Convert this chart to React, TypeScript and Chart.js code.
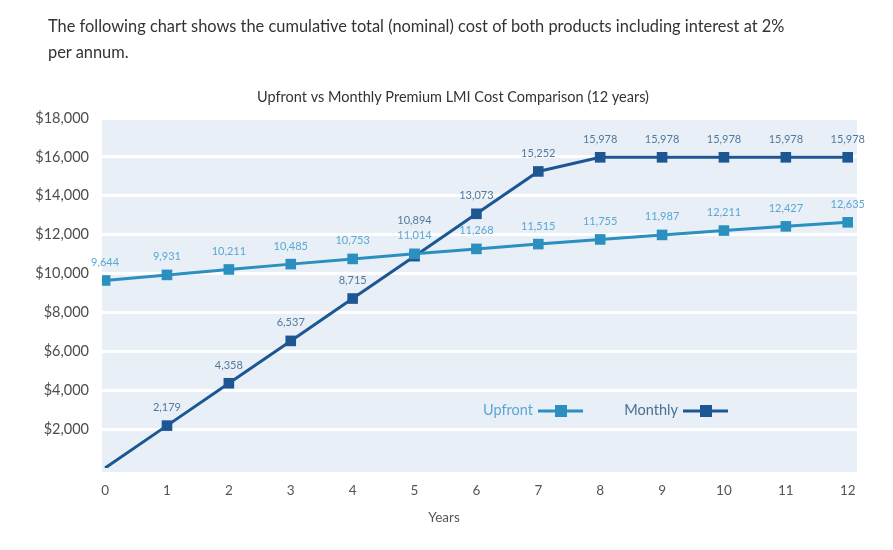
import React, { useEffect, useRef } from "react";
import { Chart, registerables } from "chart.js";

Chart.register(...registerables);

const years = [0, 1, 2, 3, 4, 5, 6, 7, 8, 9, 10, 11, 12];
const upfront = [9644, 9931, 10211, 10485, 10753, 11014, 11268, 11515, 11755, 11987, 12211, 12427, 12635];
const monthly = [0, 2179, 4358, 6537, 8715, 10894, 13073, 15252, 15978, 15978, 15978, 15978, 15978];
const yTicks = [2000, 4000, 6000, 8000, 10000, 12000, 14000, 16000, 18000];
const seriesNames = ["Upfront", "Monthly"];

const UP_COLOR = "#2b8fc0";
const MON_COLOR = "#1c5794";
const UP_LABEL = "#5aa8d2";
const MON_LABEL = "#54789d";
const FONT = "Lato, 'Open Sans', sans-serif";

const fmt = (v: number) => v.toLocaleString("en-US");

const bgPlugin = {
  id: "bgPlugin",
  beforeDraw(chart: any) {
    const { ctx, chartArea } = chart;
    ctx.save();
    ctx.fillStyle = "#e8eff6";
    ctx.fillRect(chartArea.left, chartArea.top, chartArea.right - chartArea.left, chartArea.bottom - chartArea.top + 4);
    ctx.restore();
  },
};

const textPlugin = {
  id: "textPlugin",
  afterDraw(chart: any) {
    const { ctx, chartArea } = chart;
    ctx.save();
    ctx.fillStyle = "#333333";
    ctx.font = `14.5px ${FONT}`;
    ctx.textAlign = "center";
    ctx.textBaseline = "middle";
    ctx.fillText("Upfront vs Monthly Premium LMI Cost Comparison (12 years)", 453, 97);
    ctx.fillStyle = "#555555";
    ctx.font = `13.5px ${FONT}`;
    ctx.fillText("Years", 444, 518);

    // labels
    const mu = chart.getDatasetMeta(0).data;
    const mm = chart.getDatasetMeta(1).data;
    ctx.font = `11px ${FONT}`;
    for (let i = 0; i < years.length; i++) {
      const pu = mu[i];
      const pm = mm[i];
      let yu = pu.y - 18;
      let ym = pm.y - 18;
      if (Math.abs(yu - ym) < 14 && monthly[i] > 0) {
        if (upfront[i] >= monthly[i]) ym = yu - 15;
        else yu = ym - 15;
      }
      ctx.fillStyle = UP_LABEL;
      ctx.fillText(fmt(upfront[i]), pu.x, yu);
      if (monthly[i] > 0) {
        ctx.fillStyle = MON_LABEL;
        ctx.fillText(fmt(monthly[i]), pm.x, ym);
      }
    }

    // legend
    const ly = chartArea.top + 292;
    const items = [
      { name: seriesNames[0], color: UP_COLOR, text: UP_LABEL, end: 533 },
      { name: seriesNames[1], color: MON_COLOR, text: "#4c6f94", end: 678 },
    ];
    ctx.font = `14.5px ${FONT}`;
    ctx.textAlign = "right";
    items.forEach((it) => {
      ctx.fillStyle = it.text;
      ctx.fillText(it.name, it.end, ly);
      ctx.strokeStyle = it.color;
      ctx.lineWidth = 3;
      ctx.beginPath();
      ctx.moveTo(it.end + 5, ly + 1);
      ctx.lineTo(it.end + 50, ly + 1);
      ctx.stroke();
      ctx.fillStyle = it.color;
      ctx.fillRect(it.end + 22, ly - 5, 12, 12);
    });
    ctx.restore();
  },
};

export default function App() {
  const ref = useRef<HTMLCanvasElement>(null);
  useEffect(() => {
    if (!ref.current) return;
    const chart = new Chart(ref.current, {
      type: "line",
      data: {
        datasets: [
          {
            label: seriesNames[0],
            data: years.map((x, i) => ({ x, y: upfront[i] })),
            borderColor: UP_COLOR,
            backgroundColor: UP_COLOR,
            borderWidth: 3,
            pointStyle: "rect",
            pointRadius: 7.5,
            pointBorderWidth: 0,
          },
          {
            label: seriesNames[1],
            data: years.map((x, i) => ({ x, y: monthly[i] })),
            borderColor: MON_COLOR,
            backgroundColor: MON_COLOR,
            borderWidth: 3,
            pointStyle: "rect",
            pointRadius: (c: any) => (c.dataIndex === 0 ? 0 : 7.5),
            pointBorderWidth: 0,
          },
        ],
      },
      options: {
        animation: false,
        responsive: false,
        devicePixelRatio: 1,
        layout: { padding: { left: 0, right: 36, top: 118, bottom: 0 } },
        plugins: {
          legend: { display: false },
          title: { display: false },
          tooltip: { enabled: false },
        },
        scales: {
          x: {
            type: "linear",
            min: -0.05,
            max: 12.15,
            afterBuildTicks: (s: any) => {
              s.ticks = years.map((v) => ({ value: v }));
            },
            afterFit: (s: any) => {
              s.height = 550 - 468;
            },
            grid: { display: false, drawTicks: false },
            border: { display: false },
            ticks: {
              padding: 15,
              color: "#555555",
              font: { family: FONT, size: 13.5 },
              maxRotation: 0,
              autoSkip: false,
            },
          },
          y: {
            min: 0,
            max: 18000,
            afterBuildTicks: (s: any) => {
              s.ticks = yTicks.map((v) => ({ value: v }));
            },
            afterFit: (s: any) => {
              s.width = 102;
            },
            grid: {
              color: "#ffffff",
              lineWidth: 3,
              drawTicks: false,
            },
            border: { display: false },
            ticks: {
              padding: 13,
              color: "#4d4d4d",
              font: { family: FONT, size: 14.5 },
              callback: (v: any) => "$" + Number(v).toLocaleString("en-US"),
            },
          },
        },
      },
      plugins: [bgPlugin, textPlugin],
    } as any);
    return () => chart.destroy();
  }, []);

  return (
    <div style={{ position: "absolute", left: 0, top: 0, width: 893, height: 550, background: "#fff" }}>
      <div
        style={{
          position: "absolute",
          left: 48,
          top: 13,
          width: 820,
          fontFamily: FONT,
          fontSize: 16.4,
          lineHeight: "26px",
          color: "#333333",
          whiteSpace: "nowrap",
        }}
      >
        The following chart shows the cumulative total (nominal) cost of both products including interest at 2%
        <br />
        per annum.
      </div>
      <canvas ref={ref} width={893} height={550} style={{ display: "block" }} />
    </div>
  );
}
